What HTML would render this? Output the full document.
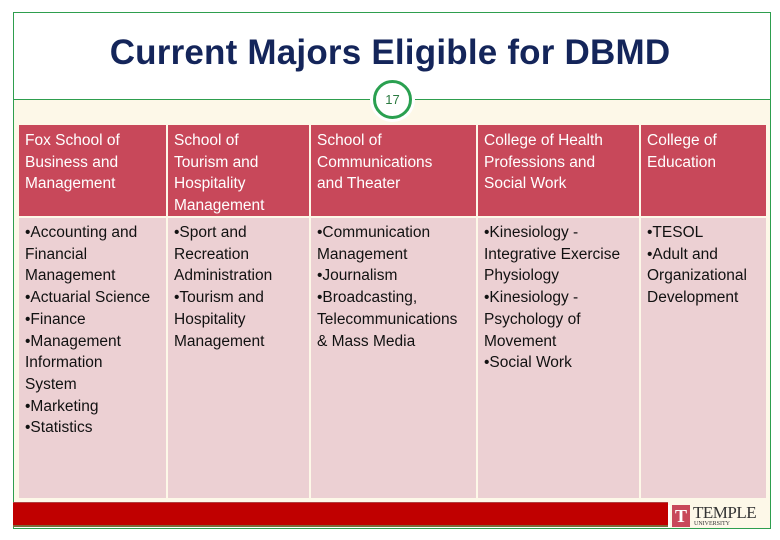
<!DOCTYPE html>
<html><head><meta charset="utf-8"><style>
*{margin:0;padding:0;box-sizing:border-box}
body{width:780px;height:540px;background:#fff;position:relative;overflow:hidden;font-family:"Liberation Sans",sans-serif}
.slide{position:absolute;left:13px;top:12px;width:758px;height:517px;border:1px solid #2e9e4e;background:#fff}
.cream{position:absolute;left:14px;top:100px;width:756px;height:405px;background:#fdf8e8}
.hline{position:absolute;left:14px;top:99px;width:756px;height:1px;background:#2e9e4e}
.title{position:absolute;left:0;top:33px;width:780px;text-align:center;font-size:35px;font-weight:bold;color:#14255a;letter-spacing:0.2px}
.circle{position:absolute;left:373px;top:80px;width:39px;height:39px;border-radius:50%;background:#fff;border:3px solid #2aa050;box-shadow:0 0 0 3px #fff;font-size:13px;color:#2a7a40;text-align:center;line-height:33px}
.cell{position:absolute;font-size:15.5px;line-height:21.7px;padding:5px 6px;color:#fff}
.h{background:#c8485a;top:125px;height:91px}
.b{background:#ecd0d3;top:218px;height:280px;color:#111;padding-top:4px}
.footer{position:absolute;left:13px;top:502px;width:655px;height:25px;background:#c00000;border-bottom:2px solid #7a6a3a;border-top:1px solid #b04040}
.logo{position:absolute;left:670px;top:502px;width:100px;height:26px;background:#fdf8e8}
</style></head><body>
<div class="slide"></div>
<div class="cream"></div>
<div class="hline"></div>
<div class="title">Current Majors Eligible for DBMD</div>
<div class="circle">17</div>

<div class="cell h" style="left:19px;width:147px">Fox School of<br>Business and<br>Management</div>
<div class="cell h" style="left:168px;width:141px">School of<br>Tourism and<br>Hospitality<br>Management</div>
<div class="cell h" style="left:311px;width:165px">School of<br>Communications<br>and Theater</div>
<div class="cell h" style="left:478px;width:161px">College of Health<br>Professions and<br>Social Work</div>
<div class="cell h" style="left:641px;width:125px">College of<br>Education</div>

<div class="cell b" style="left:19px;width:147px">•Accounting and<br>Financial<br>Management<br>•Actuarial Science<br>•Finance<br>•Management<br>Information<br>System<br>•Marketing<br>•Statistics</div>
<div class="cell b" style="left:168px;width:141px">•Sport and<br>Recreation<br>Administration<br>•Tourism and<br>Hospitality<br>Management</div>
<div class="cell b" style="left:311px;width:165px">•Communication<br>Management<br>•Journalism<br>•Broadcasting,<br>Telecommunications<br>&amp; Mass Media</div>
<div class="cell b" style="left:478px;width:161px">•Kinesiology -<br>Integrative Exercise<br>Physiology<br>•Kinesiology -<br>Psychology of<br>Movement<br>•Social Work</div>
<div class="cell b" style="left:641px;width:125px">•TESOL<br>•Adult and<br>Organizational<br>Development</div>

<div class="footer"></div>
<div class="logo">
<div style="position:absolute;left:2px;top:3px;width:18px;height:22px;background:#c8485a;color:#fff;font:bold 18px 'Liberation Serif',serif;text-align:center;line-height:22px">T</div>
<div style="position:absolute;left:23px;top:1px;font:17px 'Liberation Serif',serif;color:#333;letter-spacing:-0.5px">TEMPLE</div>
<div style="position:absolute;left:24px;top:19px;font:6px 'Liberation Serif',serif;color:#333">UNIVERSITY</div>
</div>
</body></html>
